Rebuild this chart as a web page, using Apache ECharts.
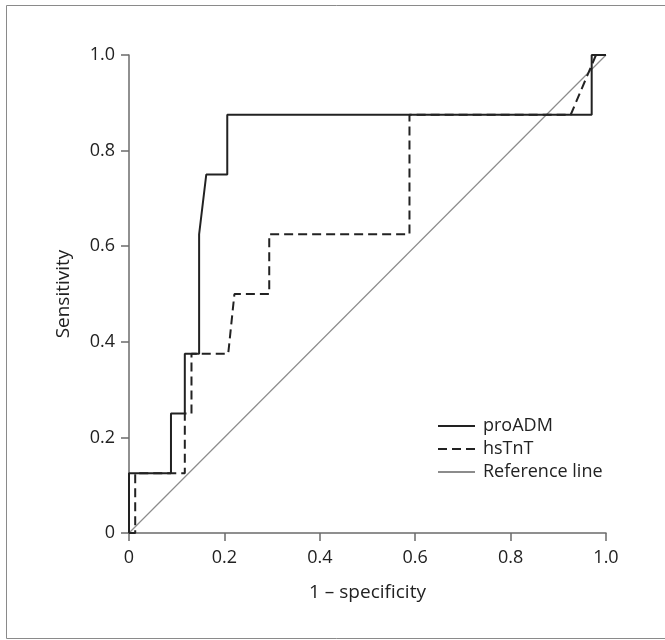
<!DOCTYPE html>
<html>
<head>
<meta charset="utf-8">
<script src="https://cdn.jsdelivr.net/npm/echarts@6/dist/echarts.min.js"></script>
<style>
  html, body { margin: 0; padding: 0; background: #fff; }
  #chart { width: 665px; height: 640px; }
</style>
</head>
<body>
<div id="chart"></div>
<script>
// ROC curves
const proAdmX = [0, 0, 0.088, 0.088, 0.117, 0.117, 0.147, 0.147, 0.162, 0.206, 0.206, 0.97, 0.97, 1];
const proAdmY = [0, 0.125, 0.125, 0.25, 0.25, 0.375, 0.375, 0.625, 0.75, 0.75, 0.875, 0.875, 1, 1];
const hsTntX = [0, 0.013, 0.013, 0.117, 0.117, 0.131, 0.131, 0.208, 0.221, 0.294, 0.294, 0.588, 0.588, 0.926, 0.979, 1];
const hsTntY = [0, 0, 0.125, 0.125, 0.25, 0.25, 0.375, 0.375, 0.5, 0.5, 0.625, 0.625, 0.875, 0.875, 1, 1];
const refX = [0, 1];
const refY = [0, 1];
const seriesNames = ['proADM', 'hsTnT', 'Reference line'];

const zip = (xs, ys) => xs.map((x, i) => [x, ys[i]]);
const font = '"Open Sans", "Noto Sans", sans-serif';
const tickFmt = v => (v === 0 ? '0' : v.toFixed(1));

const axisCommon = {
  type: 'value',
  min: 0,
  max: 1,
  interval: 0.2,
  nameLocation: 'middle',
  nameTextStyle: { fontFamily: font, fontSize: 19, color: '#222' },
  axisLine: { show: true, lineStyle: { color: '#6b6b6b', width: 1.5 } },
  axisTick: { show: true, inside: false, length: 8, lineStyle: { color: '#6b6b6b', width: 1.5 } },
  axisLabel: { fontFamily: font, fontSize: 18, color: '#222', formatter: tickFmt },
  splitLine: { show: false },
};

const chart = echarts.init(document.getElementById('chart'));
chart.setOption({
  backgroundColor: '#fff',
  animation: false,
  grid: { left: 129, top: 55, width: 477, height: 478 },
  graphic: [{
    type: 'rect',
    shape: { x: 6.5, y: 5.5, width: 700, height: 633 },
    style: { fill: 'none', stroke: '#8a8a8a', lineWidth: 1 },
    silent: true,
  }],
  xAxis: Object.assign({}, axisCommon, {
    name: '1 \u2013 specificity',
    nameGap: 50,
    axisLabel: Object.assign({}, axisCommon.axisLabel, { margin: 16 }),
  }),
  yAxis: Object.assign({}, axisCommon, {
    name: 'Sensitivity',
    nameGap: 56,
    axisLabel: Object.assign({}, axisCommon.axisLabel, { margin: 14 }),
  }),
  legend: {
    orient: 'vertical',
    left: 437,
    top: 417,
    padding: 0,
    itemWidth: 37,
    itemHeight: 18,
    itemGap: 5,
    itemStyle: { opacity: 0 },
    textStyle: { fontFamily: font, fontSize: 18, color: '#222', padding: [0, 0, 0, 3] },
    data: seriesNames,
  },
  series: [
    {
      name: seriesNames[0],
      type: 'line',
      data: zip(proAdmX, proAdmY),
      symbol: 'none',
      lineStyle: { color: '#222', width: 2 },
      itemStyle: { color: '#222' },
      z: 4,
    },
    {
      name: seriesNames[1],
      type: 'line',
      data: zip(hsTntX, hsTntY),
      symbol: 'none',
      lineStyle: { color: '#222', width: 2, type: [9, 5] },
      itemStyle: { color: '#222' },
      z: 3,
    },
    {
      name: seriesNames[2],
      type: 'line',
      data: zip(refX, refY),
      symbol: 'none',
      lineStyle: { color: '#8c8c8c', width: 1.2 },
      itemStyle: { color: '#8c8c8c' },
      z: 2,
    },
  ],
});
</script>
</body>
</html>
